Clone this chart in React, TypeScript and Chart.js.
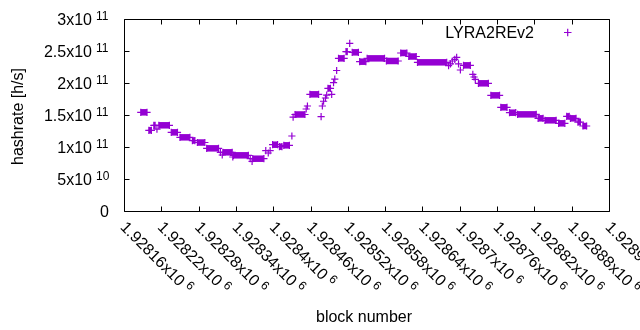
import React, { useEffect, useRef } from "react";
import { Chart, registerables } from "chart.js";

Chart.register(...registerables);

// ---- data (block number, hashrate in h/s) ----
const blockNumbers = [
  1928187, 1928197, 1928200, 1928204, 1928208, 1928210, 1928213, 1928216, 1928233,
  1928236, 1928246, 1928250, 1928266, 1928270, 1928274, 1928278, 1928290, 1928293,
  1928312, 1928315, 1928318, 1928319, 1928334, 1928335, 1928336, 1928360, 1928363,
  1928366, 1928367, 1928385, 1928388, 1928392, 1928395, 1928399, 1928407, 1928410,
  1928414, 1928417, 1928426, 1928430, 1928432, 1928435, 1928451, 1928453, 1928455,
  1928459, 1928473, 1928477, 1928479, 1928481, 1928484, 1928486, 1928488, 1928492,
  1928494, 1928497, 1928499, 1928502, 1928505, 1928514, 1928517, 1928519, 1928523,
  1928527, 1928537, 1928539, 1928549, 1928551, 1928579, 1928582, 1928601, 1928605,
  1928615, 1928618, 1928630, 1928632, 1928679, 1928682, 1928685, 1928688, 1928692,
  1928695, 1928698, 1928701, 1928706, 1928717, 1928721, 1928723, 1928725, 1928730,
  1928746, 1928750, 1928764, 1928766, 1928776, 1928780, 1928790, 1928793, 1928823,
  1928826, 1928834, 1928837, 1928855, 1928859, 1928869, 1928872, 1928876, 1928878,
  1928887, 1928890, 1928894, 1928898, 1928904,
];
const hashrates = [
  1.542e11, 1.542e11, 1.261e11, 1.261e11, 1.339e11, 1.339e11, 1.28e11, 1.339e11, 1.339e11,
  1.229e11, 1.229e11, 1.151e11, 1.151e11, 1.101e11, 1.101e11, 1.07e11, 1.07e11, 0.979e11,
  0.979e11, 0.917e11, 0.875e11, 0.917e11, 0.917e11, 0.844e11, 0.87e11, 0.87e11, 0.817e11,
  0.775e11, 0.817e11, 0.817e11, 0.942e11, 0.906e11, 0.942e11, 1.036e11, 1.036e11, 1.005e11,
  1.005e11, 1.026e11, 1.026e11, 1.172e11, 1.466e11, 1.508e11, 1.508e11, 1.594e11, 1.641e11,
  1.823e11, 1.823e11, 1.474e11, 1.641e11, 1.715e11, 1.766e11, 1.81e11, 1.917e11, 1.917e11,
  1.823e11, 2.005e11, 2.06e11, 2.195e11, 2.385e11, 2.385e11, 2.49e11, 2.49e11, 2.62e11,
  2.479e11, 2.479e11, 2.333e11, 2.333e11, 2.385e11, 2.385e11, 2.344e11, 2.344e11, 2.469e11,
  2.469e11, 2.414e11, 2.414e11, 2.323e11, 2.323e11, 2.27e11, 2.3e11, 2.344e11, 2.37e11,
  2.4e11, 2.3e11, 2.203e11, 2.276e11, 2.276e11, 2.135e11, 2.094e11, 2.057e11, 1.995e11,
  1.995e11, 1.807e11, 1.807e11, 1.62e11, 1.62e11, 1.536e11, 1.536e11, 1.51e11, 1.51e11,
  1.448e11, 1.448e11, 1.417e11, 1.417e11, 1.37e11, 1.37e11, 1.479e11, 1.479e11, 1.448e11,
  1.448e11, 1.39e11, 1.39e11, 1.328e11, 1.328e11,
];
const seriesLabel = "LYRA2REv2";
const xTitle = "block number";
const yTitle = "hashrate [h/s]";
const xMin = 1928160;
const xMax = 1928940;
const xStep = 60;
const yMin = 0;
const yMax = 3e11;
const yStep = 5e10;

const COLOR = "#9400d3";
const FAMILY = '"Liberation Sans", Arial, sans-serif';
const MAIN = 16;
const SUP = 12;

function sciParts(v: number): [string, string] {
  if (v === 0) return ["0", ""];
  const e = Math.floor(Math.log10(Math.abs(v)) + 1e-9);
  const m = parseFloat((v / Math.pow(10, e)).toPrecision(6));
  return [m + "x10", String(e)];
}

const gnuplotLook = {
  id: "gnuplotLook",
  beforeDatasetsDraw(chart: any) {
    const { ctx, chartArea: a, scales } = chart;
    const xs = scales.x;
    const ys = scales.y;
    const L = Math.round(a.left) + 0.5;
    const R = Math.round(a.right) + 0.5;
    const T = Math.round(a.top) + 0.5;
    const B = Math.round(a.bottom) + 0.5;
    ctx.save();
    ctx.strokeStyle = "#000";
    ctx.lineWidth = 1;
    ctx.beginPath();
    ctx.rect(L, T, R - L, B - T);
    ys.ticks.forEach((t: any) => {
      const p = Math.round(ys.getPixelForValue(t.value)) + 0.5;
      ctx.moveTo(L, p);
      ctx.lineTo(L + 5, p);
      ctx.moveTo(R, p);
      ctx.lineTo(R - 5, p);
    });
    xs.ticks.forEach((t: any) => {
      const p = Math.round(xs.getPixelForValue(t.value)) + 0.5;
      ctx.moveTo(p, B);
      ctx.lineTo(p, B - 5);
      ctx.moveTo(p, T);
      ctx.lineTo(p, T + 5);
    });
    ctx.stroke();
    ctx.restore();
  },
  afterDraw(chart: any) {
    const { ctx, chartArea: a, scales } = chart;
    const xs = scales.x;
    const ys = scales.y;
    ctx.save();
    ctx.fillStyle = "#000";
    ctx.textBaseline = "alphabetic";
    // y tick labels
    ys.ticks.forEach((t: any) => {
      const p = ys.getPixelForValue(t.value);
      const [m, e] = sciParts(t.value);
      ctx.font = `${MAIN}px ${FAMILY}`;
      if (!e) {
        ctx.textAlign = "right";
        ctx.fillText(m, a.left - 15, p + 5.7);
      } else {
        ctx.textAlign = "right";
        ctx.fillText(m, a.left - 32, p + 5.7);
        ctx.font = `${SUP}px ${FAMILY}`;
        ctx.textAlign = "left";
        ctx.fillText(e, a.left - 28, p + 0.5);
      }
    });
    // x tick labels, rotated
    xs.ticks.forEach((t: any) => {
      const p = xs.getPixelForValue(t.value);
      const [m, e] = sciParts(t.value);
      ctx.save();
      ctx.translate(p - 4.5, a.bottom + 17);
      ctx.rotate(Math.PI / 4);
      ctx.textAlign = "left";
      ctx.font = `${MAIN}px ${FAMILY}`;
      ctx.fillText(m, 0, 0);
      const w = ctx.measureText(m).width;
      ctx.font = `${SUP}px ${FAMILY}`;
      ctx.fillText(e, w + 4, -5.5);
      ctx.restore();
    });
    // axis titles
    ctx.font = `${MAIN}px ${FAMILY}`;
    ctx.textAlign = "center";
    ctx.fillText(xTitle, 364, 321.5);
    ctx.save();
    ctx.translate(18.5, 116.5);
    ctx.rotate(-Math.PI / 2);
    ctx.textBaseline = "middle";
    ctx.fillText(yTitle, 0, 0);
    ctx.restore();
    // legend
    ctx.textAlign = "right";
    ctx.textBaseline = "alphabetic";
    ctx.fillText(seriesLabel, 534, 37.5);
    ctx.strokeStyle = COLOR;
    ctx.lineWidth = 1.2;
    ctx.beginPath();
    ctx.moveTo(564, 32.5);
    ctx.lineTo(571.5, 32.5);
    ctx.moveTo(567.7, 28.8);
    ctx.lineTo(567.7, 36.3);
    ctx.stroke();
    ctx.restore();
  },
};

export default function App() {
  const ref = useRef<HTMLCanvasElement | null>(null);
  useEffect(() => {
    if (!ref.current) return;
    const data = blockNumbers.map((b, i) => ({ x: b, y: hashrates[i] }));
    const chart = new Chart(ref.current, {
      type: "scatter",
      data: {
        datasets: [
          {
            label: seriesLabel,
            data,
            showLine: true,
            borderColor: COLOR,
            backgroundColor: COLOR,
            borderWidth: 6.5,
            borderCapStyle: "butt",
            segment: {
              borderColor: (c: any) =>
                c.p0.parsed.y === c.p1.parsed.y ? COLOR : "rgba(0,0,0,0)",
            },
            pointStyle: "cross",
            pointRadius: 3.6,
            pointBorderWidth: 1.2,
            pointBorderColor: COLOR,
            pointBackgroundColor: COLOR,
            pointHoverRadius: 3.6,
          } as any,
        ],
      },
      options: {
        animation: false,
        responsive: false,
        maintainAspectRatio: false,
        events: [],
        layout: { padding: { left: 0, right: 31, top: 19, bottom: 0 } },
        plugins: { legend: { display: false }, tooltip: { enabled: false } },
        scales: {
          x: {
            type: "linear",
            min: xMin,
            max: xMax,
            ticks: { stepSize: xStep, display: false },
            grid: { display: false },
            border: { display: false },
            afterFit: (s: any) => {
              s.height = 119;
            },
          },
          y: {
            type: "linear",
            min: yMin,
            max: yMax,
            ticks: { stepSize: yStep, display: false },
            grid: { display: false },
            border: { display: false },
            afterFit: (s: any) => {
              s.width = 124;
            },
          },
        },
      },
      plugins: [gnuplotLook],
    });
    return () => chart.destroy();
  }, []);
  return (
    <div
      style={{
        position: "fixed",
        left: 0,
        top: 0,
        width: 640,
        height: 330,
        background: "#fff",
      }}
    >
      <canvas ref={ref} width={640} height={330} style={{ display: "block", width: 640, height: 330 }} />
    </div>
  );
}
